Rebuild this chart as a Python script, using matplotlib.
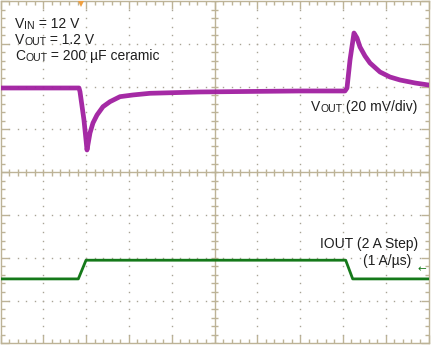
import numpy as np
import matplotlib
matplotlib.use("Agg")
import matplotlib.pyplot as plt
from matplotlib.ticker import MultipleLocator

# scope traces, in divisions (10 x 8 grid, 0 = centre line)
voutTime = [0.0, 1.834, 1.857, 1.950, 1.998, 2.021, 2.091, 2.161, 2.255, 2.395, 2.558, 2.792,
            3.096, 3.493, 4.661, 5.829, 6.998, 8.049, 8.096, 8.166, 8.259, 8.329,
            8.400, 8.516, 8.633, 8.867, 9.100, 9.334, 9.685, 10.0]
voutDiv = [1.967, 1.967, 1.882, 1.220, 0.752, 0.518, 0.916, 1.150, 1.336, 1.530, 1.647, 1.764,
           1.804, 1.843, 1.874, 1.886, 1.897, 1.897, 1.967, 2.621, 3.252, 3.136,
           2.925, 2.715, 2.551, 2.341, 2.224, 2.154, 2.084, 2.037]

ioutTime = [0.0, 1.818, 1.998, 8.065, 8.229, 10.0]
ioutDiv = [-2.495, -2.495, -2.058, -2.058, -2.495, -2.495]

gridColor = "#bdb397"
dotColor = "#a9a496"
textColor = "#1e1e1e"
voutColor = "#a01ea0"
ioutColor = "#15791a"

plt.rcParams['font.family'] = ['Liberation Sans', 'DejaVu Sans']


def chainedLabel(ax, x, y, parts, size=10.0, smallSize=7.6, color=textColor):
  # parts: (text, isSmallCaps) pieces written left to right on one line
  prev = ax.text(x, y, parts[0][0], fontsize=smallSize if parts[0][1] else size,
                 color=color, va='baseline', ha='left')
  for txt, small in parts[1:]:
    prev = ax.annotate(txt, xy=(1, 0), xycoords=prev, va='bottom', ha='left',
                       fontsize=smallSize if small else size, color=color)
  return prev


def drawGraticule(ax):
  minor = np.arange(0, 10.01, 0.2)
  minorY = np.arange(-4, 4.01, 0.2)
  # dotted division lines
  for gx in range(1, 10):
    if gx == 5:
      continue
    ax.plot(np.full(len(minorY), gx), minorY, linestyle='none', marker='s',
            markersize=1.0, markeredgewidth=0, color=dotColor, zorder=1)
  for gy in range(-3, 4):
    if gy == 0:
      continue
    ax.plot(minor, np.full(len(minor), gy), linestyle='none', marker='s',
            markersize=1.0, markeredgewidth=0, color=dotColor, zorder=1)
  # centre cross with its small ticks
  ax.axhline(0, color=gridColor, lw=1.0, zorder=1)
  ax.axvline(5, color=gridColor, lw=1.0, zorder=1)
  ax.vlines(minor, -0.08, 0.08, color=gridColor, lw=1.0, zorder=1)
  ax.hlines(minorY, 4.92, 5.08, color=gridColor, lw=1.0, zorder=1)
  # border ticks
  ax.xaxis.set_major_locator(MultipleLocator(1))
  ax.xaxis.set_minor_locator(MultipleLocator(0.2))
  ax.yaxis.set_major_locator(MultipleLocator(1))
  ax.yaxis.set_minor_locator(MultipleLocator(0.2))
  ax.tick_params(which='both', direction='in', top=True, right=True, bottom=True, left=True,
                 labelbottom=False, labelleft=False, color=gridColor, width=1.0)
  ax.tick_params(which='major', length=6)
  ax.tick_params(which='minor', length=3)
  for s in ax.spines.values():
    s.set_color(gridColor)
    s.set_linewidth(1.0)


fig = plt.figure(figsize=(4.32, 3.52), dpi=100)
ax = fig.add_axes([0.5 / 432, 8.7 / 352, 428 / 432, 342.3 / 352])
ax.set_xlim(0, 10)
ax.set_ylim(-4, 4)
drawGraticule(ax)

ax.plot(voutTime, voutDiv, color=voutColor, lw=3.4, alpha=0.95, solid_joinstyle='round', zorder=3)
ax.plot(ioutTime, ioutDiv, color=ioutColor, lw=2.0, zorder=3)

# trigger position and channel ground markers
ax.plot([1.88], [3.93], marker='v', markersize=5, color='#f0a040', markeredgewidth=0,
        clip_on=False, zorder=4)
ax.text(9.84, -2.26, "\u2190", fontsize=7.5, family='DejaVu Sans', color=ioutColor,
        ha='center', va='center')

chainedLabel(ax, 0.34, 3.362, [("V", False), ("IN", True), (" = 12 V", False)])
chainedLabel(ax, 0.34, 2.988, [("V", False), ("OUT", True), (" = 1.2 V", False)])
chainedLabel(ax, 0.34, 2.614, [("C", False), ("OUT", True), (" = 200 \u00b5F ceramic", False)])
chainedLabel(ax, 7.255, 1.418, [("V", False), ("OUT", True), (" (20 mV/div)", False)])

ax.text(9.762, -1.77, "IOUT (2 A Step)", fontsize=10.0, color=textColor, ha='right', va='baseline')
ax.text(9.607, -2.18, "(1 A/\u00b5s)", fontsize=10.0, color=textColor, ha='right', va='baseline')

fig.savefig("out.png", dpi=100)
